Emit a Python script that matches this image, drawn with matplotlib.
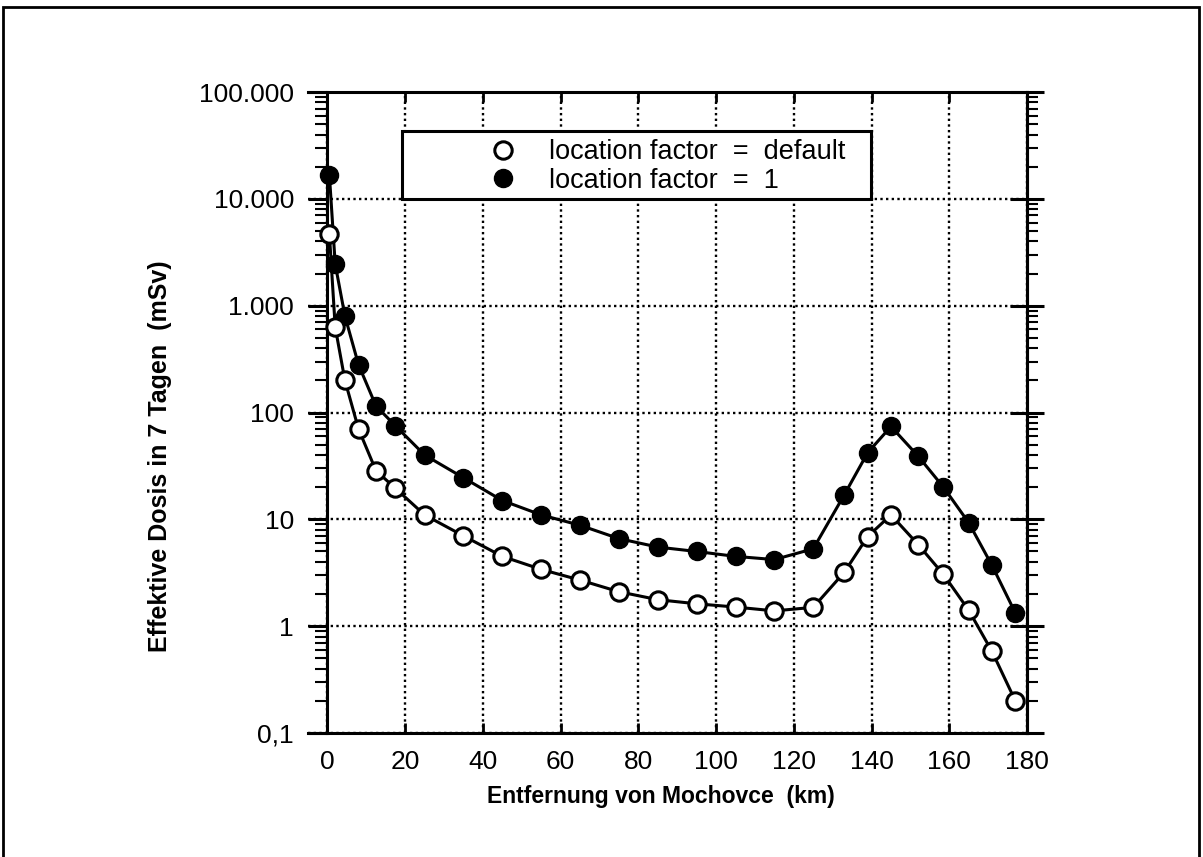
import matplotlib
matplotlib.use("Agg")
import matplotlib.pyplot as plt
from matplotlib.patches import Rectangle
from matplotlib.lines import Line2D
from matplotlib.ticker import FixedLocator, FixedFormatter, LogLocator, NullFormatter

plt.rcParams['font.family'] = ['Liberation Sans', 'DejaVu Sans']

# Entfernung (km)
dist = [0.5, 2, 4.5, 8, 12.5, 17.5, 25, 35, 45, 55, 65, 75, 85, 95, 105,
        115, 125, 133, 139, 145, 152, 158.5, 165, 171, 177]
# effektive Dosis (mSv), location factor = default
dose_default = [4700, 630, 200, 70, 28.5, 19.5, 11, 7, 4.5, 3.4, 2.7, 2.1,
                1.77, 1.62, 1.51, 1.39, 1.5, 3.2, 6.9, 11, 5.8, 3.05, 1.41,
                0.58, 0.2]
# effektive Dosis (mSv), location factor = 1
dose_lf1 = [16800, 2450, 800, 280, 115, 75, 40, 24.5, 15, 11, 8.8, 6.6, 5.5,
            5.0, 4.5, 4.2, 5.3, 17, 42, 74, 39, 20, 9.3, 3.7, 1.33]

xticks = [0, 20, 40, 60, 80, 100, 120, 140, 160, 180]
yticks = [0.1, 1, 10, 100, 1000, 10000, 100000]
ylabels = ['0,1', '1', '10', '100', '1.000', '10.000', '100.000']
legend_labels = ['location factor  =  default', 'location factor  =  1']

W, H = 1203, 857
fig = plt.figure(figsize=(W / 100, H / 100), dpi=100)
ax = fig.add_axes([308 / W, 1 - 733 / H, (1027 - 308) / W, (733 - 92) / H])

ax.set_yscale('log')
ax.set_xlim(-5, 180)
ax.set_ylim(0.1, 100000)

ax.plot(dist, dose_lf1, '-o', color='black', lw=2.2, ms=13,
        mfc='black', mec='black', zorder=4)
ax.plot(dist, dose_default, '-o', color='black', lw=2.2, ms=12.5,
        mfc='white', mec='black', mew=2.2, zorder=4)

# axes / spines
for s in ax.spines.values():
    s.set_linewidth(2.2)
ax.spines['left'].set_position(('data', 0))

ax.xaxis.set_major_locator(FixedLocator(xticks))
ax.yaxis.set_major_locator(FixedLocator(yticks))
ax.yaxis.set_major_formatter(FixedFormatter(ylabels))
ax.yaxis.set_minor_locator(LogLocator(base=10, subs=range(2, 10), numticks=20))
ax.yaxis.set_minor_formatter(NullFormatter())

ax.tick_params(axis='x', direction='in', top=True, length=7, width=2,
               pad=12, labelsize=19)
ax.tick_params(axis='y', which='major', direction='out', length=14,
               width=2.2, pad=10, labelsize=19, right=False)
ax.tick_params(axis='y', which='minor', direction='out', length=9,
               width=1.5, right=False)

sec = ax.secondary_yaxis('right')
sec.yaxis.set_major_locator(FixedLocator(yticks))
sec.yaxis.set_minor_locator(LogLocator(base=10, subs=range(2, 10), numticks=20))
sec.yaxis.set_major_formatter(NullFormatter())
sec.yaxis.set_minor_formatter(NullFormatter())
sec.spines['right'].set_linewidth(2.2)
sec.tick_params(which='major', direction='inout', length=25, width=2.2)
sec.tick_params(which='minor', direction='out', length=8, width=1.5)

ax.grid(True, which='major', color='black', linestyle=(0, (1, 1.4)),
        linewidth=1.7)

# legend
ax.add_patch(Rectangle((0.1307, 0.833), 0.653, 0.106, transform=ax.transAxes,
                       fc='white', ec='black', lw=2.2, zorder=6))
handles = [Line2D([], [], ls='none', marker='o', ms=12.5, mfc='white',
                  mec='black', mew=2.2),
           Line2D([], [], ls='none', marker='o', ms=13, mfc='black',
                  mec='black')]
leg = ax.legend(handles, legend_labels, loc='center left',
                bbox_to_anchor=(0.252, 0.884), frameon=False, fontsize=19.5,
                handlelength=1.0, handletextpad=1.2, labelspacing=0.1,
                borderpad=0, borderaxespad=0)
leg.set_zorder(7)

fig.text(661 / W, 1 - 797 / H, 'Entfernung von Mochovce  (km)',
         ha='center', va='center', fontsize=16.5, fontweight='bold')
fig.text(160 / W, 1 - 456 / H, 'Effektive Dosis in 7 Tagen  (mSv)',
         ha='center', va='center', rotation=90, fontsize=18,
         fontweight='bold')

# outer frame
fig.add_artist(Rectangle((0.0025, -0.02), 0.994, 1.012,
                         transform=fig.transFigure, fill=False,
                         ec='black', lw=2))

fig.savefig('out.png', dpi=100)
